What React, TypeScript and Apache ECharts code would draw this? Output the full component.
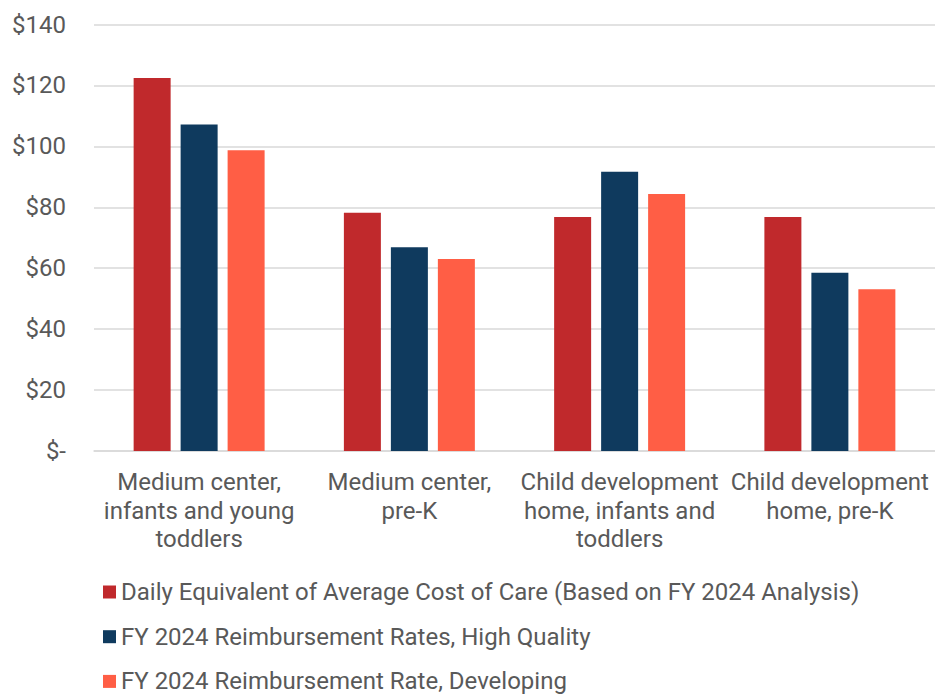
import React, { useEffect, useRef } from "react";
import * as echarts from "echarts";

const categories = [
  "Medium center,\ninfants and young\ntoddlers",
  "Medium center,\npre-K",
  "Child development\nhome, infants and\ntoddlers",
  "Child development\nhome, pre-K",
];
const costOfCare = [122.4, 78.2, 76.8, 76.8];
const highQuality = [107.2, 66.9, 91.7, 58.5];
const developing = [98.7, 63.0, 84.4, 53.1];
const seriesNames = [
  "Daily Equivalent of Average Cost of Care (Based on FY 2024 Analysis)",
  "FY 2024 Reimbursement Rates, High Quality",
  "FY 2024 Reimbursement Rate, Developing",
];
const colors = ["#C0292C", "#0F3A5E", "#FF5E45"];

export default function App() {
  const ref = useRef<HTMLDivElement>(null);
  useEffect(() => {
    if (!ref.current) return;
    const chart = echarts.init(ref.current, null, { renderer: "svg" });
    const font = "Roboto";
    chart.setOption({
      animation: false,
      color: colors,
      textStyle: { fontFamily: font },
      grid: { left: 94, right: 0, top: 24.5, bottom: 243, containLabel: false },
      legend: {
        orient: "vertical",
        left: 98,
        top: 580,
        padding: [0, 5, 0, 5],
        icon: "rect",
        itemWidth: 13,
        itemHeight: 13,
        itemGap: 20.7,
        textStyle: { fontFamily: font, fontSize: 24, lineHeight: 24, color: "#595959" },
        data: seriesNames,
      },
      xAxis: {
        type: "category",
        data: categories,
        axisLine: { show: true, lineStyle: { color: "#D9D9D9", width: 1.5 } },
        axisTick: { show: false },
        axisLabel: {
          interval: 0,
          fontFamily: font,
          fontSize: 24,
          color: "#595959",
          lineHeight: 28.5,
          margin: 17,
        },
      },
      yAxis: {
        type: "value",
        min: 0,
        max: 140,
        interval: 20,
        axisLine: { show: false },
        axisTick: { show: false },
        splitLine: { lineStyle: { color: "#D9D9D9", width: 1.5 } },
        axisLabel: {
          fontFamily: font,
          fontSize: 24,
          color: "#595959",
          margin: 28,
          formatter: (v: number) => (v === 0 ? "$-" : "$" + v),
        },
      },
      series: [costOfCare, highQuality, developing].map((d, i) => ({
        name: seriesNames[i],
        type: "bar",
        data: d,
        barWidth: 37,
        barGap: "27%",
        itemStyle: { color: colors[i] },
      })),
    });
    return () => chart.dispose();
  }, []);
  return <div ref={ref} style={{ width: 935, height: 694, position: "absolute", left: 0, top: 0, background: "#fff" }} />;
}
